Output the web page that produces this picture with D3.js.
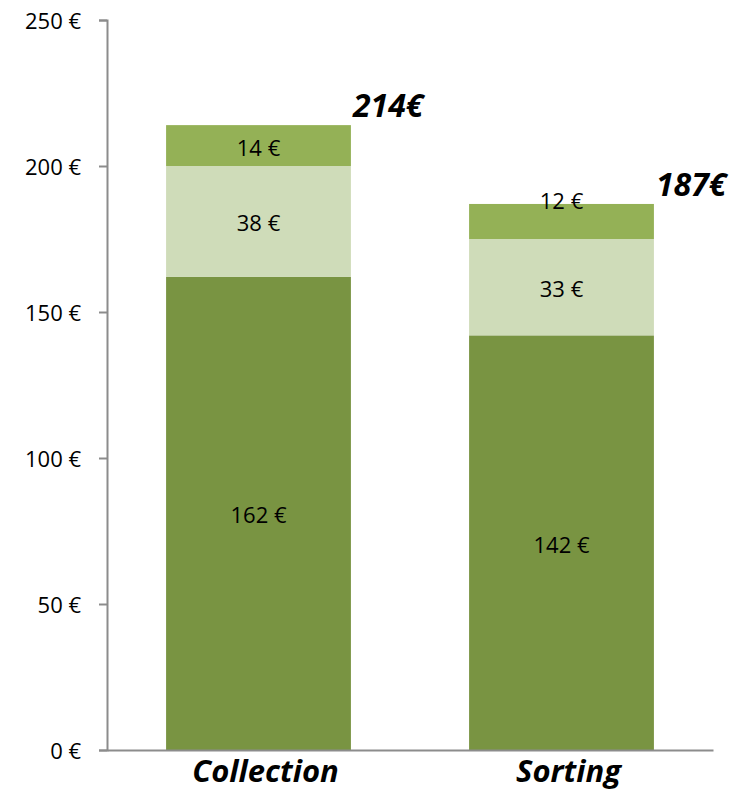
<!DOCTYPE html>
<html>
<head>
<meta charset="utf-8">
<script src="https://cdn.jsdelivr.net/npm/d3@7"></script>
<style>
  html, body { margin: 0; padding: 0; background: #fff; }
  svg { display: block; font-family: "Open Sans", "Noto Sans", sans-serif; }
</style>
</head>
<body>
<svg id="chart" width="754" height="791"></svg>
<script>
// Cost breakdown per stage (euros), stacked from the bottom segment up
const categories = ["Collection", "Sorting"];
const seriesNames = ["base", "middle", "top"];
const baseValues = [162, 142];
const middleValues = [38, 33];
const topValues = [14, 12];
const totals = [214, 187];
const yTicks = [0, 50, 100, 150, 200, 250];

const colors = { base: "#799442", middle: "#cfdcb9", top: "#94b156" };

const svg = d3.select("#chart");
const x0 = 107, x1 = 713, yBottom = 750, yTop = 20;

const x = d3.scaleBand().domain(categories).range([x0, x1]).paddingInner(0.39).paddingOuter(0.195);
const y = d3.scaleLinear().domain([0, 250]).range([yBottom, yTop]);

const rows = categories.map((c, i) => ({
  category: c, base: baseValues[i], middle: middleValues[i], top: topValues[i]
}));
const stacked = d3.stack().keys(seriesNames)(rows);

// Stacked bars
const layers = svg.append("g").selectAll("g").data(stacked).join("g")
  .attr("fill", d => colors[d.key]);
layers.selectAll("rect").data(d => d.map(p => Object.assign(p, { key: d.key }))).join("rect")
  .attr("x", d => x(d.data.category))
  .attr("width", x.bandwidth())
  .attr("y", d => y(d[1]))
  .attr("height", d => y(d[0]) - y(d[1]));

// Segment value labels (the small top segment of "Sorting" sits on the bar edge)
const labelNudge = { "Sorting|top": -22 };
layers.selectAll("text").data(d => d).join("text")
  .attr("x", d => x(d.data.category) + x.bandwidth() / 2)
  .attr("y", d => (y(d[0]) + y(d[1])) / 2 + 10 + (labelNudge[d.data.category + "|" + d.key] || 0))
  .attr("text-anchor", "middle")
  .attr("font-size", 22)
  .attr("fill", "#000")
  .text(d => `${d[1] - d[0]} €`);

// Totals above each bar
svg.append("g").selectAll("text").data(categories).join("text")
  .attr("x", (c) => x(c) + x.bandwidth() + 2)
  .attr("y", (c, i) => y(totals[i]) - 8)
  .attr("font-size", 32)
  .attr("font-weight", 700)
  .attr("font-style", "italic")
  .attr("fill", "#000")
  .text((c, i) => `${totals[i]}€`);

// Y axis
const yAxis = d3.axisLeft(y).tickValues(yTicks).tickSize(8).tickPadding(18)
  .tickFormat(d => `${d} €`);
const gy = svg.append("g").attr("transform", `translate(${x0},0)`).call(yAxis);
gy.select(".domain").attr("stroke", "#8c8c8c").attr("stroke-width", 2);
gy.selectAll(".tick line").attr("stroke", "#8c8c8c").attr("stroke-width", 2);
gy.selectAll(".tick text").attr("font-size", 22).attr("fill", "#000")
  .attr("font-family", "'Open Sans', sans-serif").attr("dy", 8);

// X axis
const xAxis = d3.axisBottom(x).tickSize(0).tickPadding(0);
const gx = svg.append("g").attr("transform", `translate(0,${yBottom})`).call(xAxis);
gx.select(".domain").attr("stroke", "#8c8c8c").attr("stroke-width", 2);
gx.selectAll(".tick text")
  .attr("font-size", 31).attr("font-weight", 700).attr("font-style", "italic")
  .attr("fill", "#000").attr("font-family", "'Open Sans', sans-serif")
  .attr("dx", 7).attr("dy", 32).attr("y", 0);
</script>
</body>
</html>
